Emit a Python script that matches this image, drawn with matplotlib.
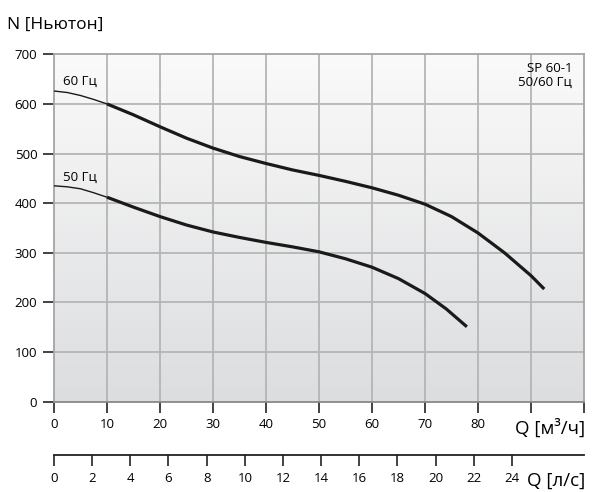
import matplotlib
matplotlib.use("Agg")
import matplotlib.pyplot as plt
import numpy as np
from matplotlib.colors import LinearSegmentedColormap

plt.rcParams['font.family'] = ['Open Sans', 'DejaVu Sans']

# curve points: Q [m3/h], N [Newton]
q_60 = [0, 2.5, 5, 7.5, 10, 15, 20, 25, 30, 35, 40, 45, 50, 55, 60, 65, 70, 75, 80, 85, 90, 92.5]
n_60 = [626, 623, 617, 609, 600, 578, 554, 531, 511, 494, 480, 467, 456, 444, 431, 416, 398, 373, 340, 300, 254, 227]
q_50 = [0, 2.5, 5, 7.5, 10, 15, 20, 25, 30, 35, 40, 45, 50, 55, 60, 65, 70, 74, 77.9]
n_50 = [435, 433, 429, 421, 412, 392, 373, 356, 342, 331, 321, 312, 302, 288, 271, 248, 218, 187, 151]

q_ticks = list(range(0, 101, 10))
q_labels = ['0', '10', '20', '30', '40', '50', '60', '70', '80', '', '']
n_ticks = [0, 100, 200, 300, 400, 500, 600, 700]
ls_ticks = list(range(0, 25, 2))

fig = plt.figure(figsize=(5.93, 4.92), dpi=100)
ax = fig.add_axes([54 / 593, 1 - 401.7 / 492, 530 / 593, 347.4 / 492])

# gradient background
grad = np.linspace(0, 1, 256).reshape(-1, 1)
cmap = LinearSegmentedColormap.from_list('bg', ['#dcdddf', '#fafafa'])
ax.imshow(grad, extent=[0, 100, 0, 700], origin='lower', aspect='auto', cmap=cmap, zorder=0)

ax.set_xlim(0, 100)
ax.set_ylim(0, 700)
for x in range(10, 100, 10):
    ax.axvline(x, color='#b5b5b5', lw=1.3, zorder=1)
for y in range(100, 700, 100):
    ax.axhline(y, color='#b5b5b5', lw=1.3, zorder=1)

# thin start, thick rest
for q, n in ((q_60, n_60), (q_50, n_50)):
    q = np.array(q); n = np.array(n)
    ax.plot(q[q <= 10], n[q <= 10], color='#1a1a1a', lw=1.0, zorder=3, solid_capstyle='butt')
    ax.plot(q[q >= 10], n[q >= 10], color='#1a1a1a', lw=2.3, zorder=3,
            solid_capstyle='butt', solid_joinstyle='round')

ax.text(1.7, 645, '60 Гц', fontsize=9.5, va='center', ha='left')
ax.text(1.7, 451, '50 Гц', fontsize=9.5, va='center', ha='left')
ax.text(97.8, 685, 'SP 60-1\n50/60 Гц', fontsize=9.5, va='top', ha='right', linespacing=1.1)

ax.set_xticks(q_ticks)
ax.set_xticklabels(q_labels)
ax.set_yticks(n_ticks)
ax.tick_params(axis='both', length=8, width=1.2, color='#222222', labelsize=9.5, pad=4)
for s in ('top', 'right', 'left'):
    ax.spines[s].set_color('#a5a5a5')
    ax.spines[s].set_linewidth(1.3)
ax.spines['bottom'].set_color('#888888')
ax.spines['bottom'].set_linewidth(1.3)

# second flow axis in l/s
ax2 = fig.add_axes([54 / 593, 1 - 455 / 492, 530 / 593, 0.0001])
ax2.set_xlim(0, 100 / 3.6)
ax2.set_ylim(0, 1)
ax2.set_yticks([])
ax2.set_xticks(ls_ticks)
ax2.tick_params(axis='x', length=8, width=1.2, color='#222222', labelsize=9.5, pad=4)
for s in ('top', 'right', 'left'):
    ax2.spines[s].set_visible(False)
ax2.spines['bottom'].set_color('#222222')
ax2.spines['bottom'].set_linewidth(1.3)
ax2.patch.set_visible(False)

fig.text(7 / 593, 1 - 25 / 492, 'N [Ньютон]', fontsize=12.5, va='center', ha='left')
fig.text(585 / 593, 1 - 428 / 492, 'Q [м³/ч]', fontsize=13.5, va='center', ha='right')
fig.text(585 / 593, 1 - 481 / 492, 'Q [л/с]', fontsize=13.5, va='center', ha='right')

fig.savefig('out.png', dpi=100)
